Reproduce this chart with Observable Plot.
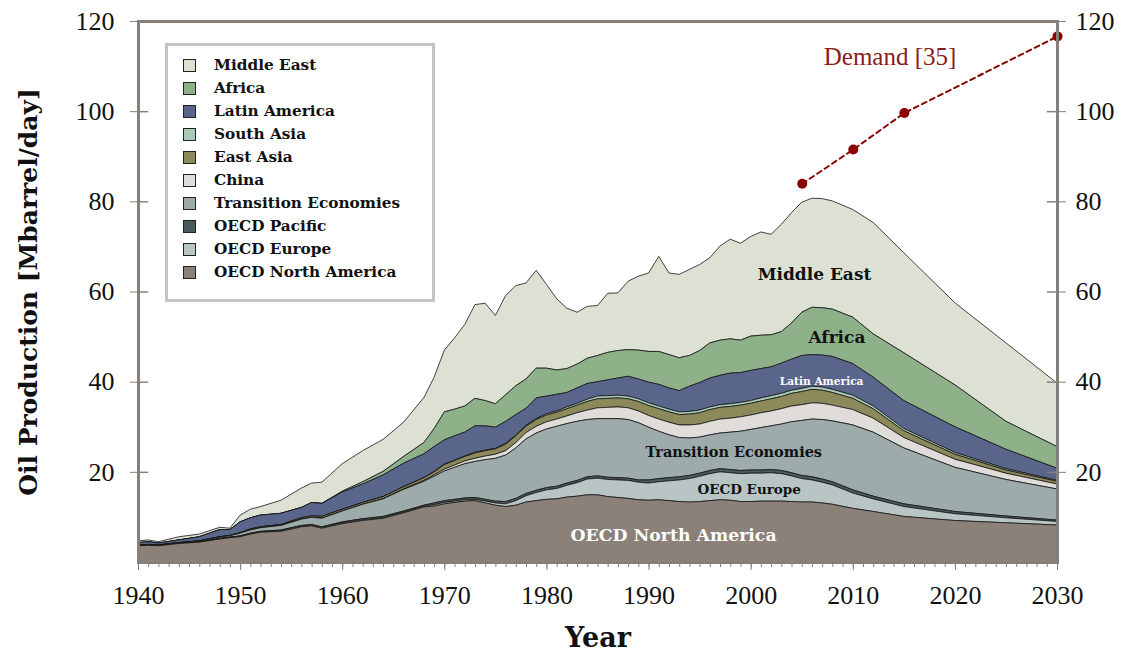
<!DOCTYPE html>
<html><head><meta charset="utf-8">
<script src="https://cdn.jsdelivr.net/npm/d3@7"></script>
<script src="https://cdn.jsdelivr.net/npm/@observablehq/plot@0.6"></script>
<style>
body{margin:0;background:#fff;}
#wrap{position:relative;width:1127px;height:656px;}
#legend{position:absolute;left:165px;top:43px;width:264px;height:253px;border:3px solid #c4c4c4;background:#fff;}
.item{position:absolute;left:15px;height:23px;display:flex;align-items:center;font-family:"DejaVu Serif";font-weight:bold;font-size:15.3px;color:#111;white-space:nowrap;}
.sw{width:11px;height:11px;border:1.5px solid #222;margin-right:18px;flex:none;}
</style></head>
<body><div id="wrap"><div id="legend"></div></div>
<script>
// ---- data (Mbarrel/day) ----
const years = [1940,1941,1942,1944,1946,1948,1949,1950,1951,1952,1954,1956,1957,1958,
  1960,1962,1964,1966,1968,
  1969,1970,1971,1972,1973,1974,1975,1976,1977,1978,1979,
  1980,1981,1982,1983,1984,1985,1986,1987,1988,1989,
  1990,1991,1992,1993,1994,1995,1996,1997,1998,1999,
  2000,2001,2002,2003,2004,2005,2006,2007,2008,
  2010,2012,2015,2020,2025,2030];

const oecdNorthAmerica = [3.6,3.7,3.6,4.1,4.4,5.1,5.4,5.6,6.2,6.6,6.8,7.8,8.0,7.5,
  8.5,9.2,9.7,10.9,12.2,
  12.4,12.9,13.2,13.5,13.6,13.1,12.6,12.3,12.6,13.3,13.6,
  13.9,14.0,14.4,14.6,14.9,14.9,14.5,14.3,14.1,13.8,
  13.7,13.8,13.6,13.4,13.3,13.4,13.6,13.8,13.7,13.4,
  13.4,13.5,13.5,13.5,13.4,13.3,13.3,13.1,12.8,
  11.9,11.2,10.1,9.2,8.7,8.2];
const oecdEurope = [0,0,0,0,0,0.1,0.1,0.1,0.1,0.1,0.2,0.2,0.2,0.2,
  0.2,0.2,0.2,0.2,0.2,
  0.3,0.3,0.3,0.3,0.3,0.4,0.5,0.6,1.0,1.4,1.8,
  2.1,2.3,2.6,3.0,3.5,3.7,3.8,3.9,4.0,3.9,
  3.8,4.0,4.4,4.8,5.2,5.6,6.0,6.2,6.1,6.2,
  6.3,6.2,6.3,6.1,5.7,5.2,4.9,4.6,4.3,
  3.4,2.8,2.2,1.5,1.1,0.8];
const oecdPacific = [0,0,0,0,0,0,0,0.1,0.1,0.1,0.1,0.1,0.1,0.1,
  0.2,0.2,0.2,0.2,0.2,
  0.4,0.4,0.4,0.4,0.4,0.4,0.4,0.5,0.5,0.5,0.5,
  0.5,0.5,0.5,0.5,0.5,0.5,0.5,0.5,0.5,0.5,
  0.7,0.7,0.7,0.7,0.7,0.7,0.7,0.7,0.7,0.7,
  0.7,0.7,0.7,0.7,0.7,0.7,0.7,0.7,0.7,
  0.7,0.6,0.6,0.5,0.4,0.3];
const transitionEconomies = [0.1,0.1,0.1,0.1,0.2,0.3,0.3,0.6,0.7,0.8,1.0,1.4,1.6,1.9,
  2.4,3.2,3.9,4.8,5.3,
  5.9,6.6,7.1,7.6,8.0,8.8,9.5,10.3,11.2,12.1,12.7,
  13.0,13.3,13.2,13.1,12.7,12.7,13.0,13.1,13.0,12.7,
  11.7,10.5,9.5,8.7,8.3,8.0,7.9,7.9,8.3,8.7,
  9.0,9.4,9.7,10.3,11.3,12.2,12.8,13.2,13.5,
  14.4,14.2,12.4,9.8,8.1,6.9];
const china = [0,0,0,0,0,0,0,0,0,0,0,0,0,0,
  0,0,0,0.1,0.2,
  0.3,0.4,0.5,0.6,0.7,0.8,0.9,1.0,1.2,1.4,1.5,
  1.6,1.6,1.7,1.9,2.1,2.4,2.5,2.6,2.6,2.6,
  2.6,2.7,2.8,2.8,2.9,2.9,3.0,3.1,3.1,3.2,
  3.2,3.3,3.3,3.4,3.5,3.5,3.6,3.6,3.5,
  3.4,3.1,2.3,1.8,1.4,1.1];
const eastAsia = [0.1,0.1,0.1,0.1,0.1,0.1,0.1,0.1,0.2,0.2,0.2,0.3,0.3,0.4,
  0.4,0.4,0.5,0.5,0.6,
  0.7,1.0,1.0,1.0,1.2,1.2,1.2,1.4,1.5,1.4,1.5,
  1.5,1.5,1.6,1.7,1.9,2.0,2.0,2.0,2.0,2.1,
  2.2,2.3,2.3,2.3,2.4,2.5,2.6,2.6,2.6,2.6,
  2.6,2.6,2.7,2.7,2.8,2.9,3.0,2.9,2.8,
  2.5,2.1,1.5,1.1,0.7,0.6];
const southAsia = [0,0,0,0,0,0,0,0,0,0,0,0,0,0,
  0,0,0,0,0,
  0.1,0.1,0.1,0.1,0.1,0.1,0.1,0.2,0.2,0.2,0.2,
  0.3,0.3,0.4,0.4,0.5,0.6,0.6,0.6,0.6,0.6,
  0.6,0.6,0.6,0.6,0.6,0.6,0.6,0.6,0.6,0.6,
  0.6,0.7,0.7,0.7,0.7,0.7,0.7,0.7,0.7,
  0.7,0.6,0.5,0.4,0.3,0.2];
const latinAmerica = [0.5,0.6,0.4,0.6,0.9,1.6,1.3,2.4,2.5,2.6,2.5,2.3,3.0,2.9,
  3.8,4.1,4.8,5.2,5.3,
  5.5,5.4,5.4,5.3,5.9,5.4,4.7,4.9,4.5,3.8,4.6,
  3.9,3.7,3.2,3.4,3.5,3.2,3.5,3.8,4.4,4.4,
  4.6,4.8,4.7,4.7,5.6,6.1,6.4,6.5,6.8,6.6,
  6.7,6.5,6.4,6.7,6.9,7.3,7.0,7.1,7.3,
  7.0,6.4,6.2,5.7,4.3,2.7];
const africa = [0,0,0,0,0,0,0,0,0,0,0,0,0,0,
  0.2,0.5,0.8,1.5,2.5,
  4.0,6.2,5.9,5.8,6.1,5.6,5.2,5.9,6.4,6.5,6.6,
  6.2,5.4,5.3,5.3,5.6,5.8,6.1,6.1,5.9,6.4,
  6.8,7.3,7.4,7.3,6.8,7.1,7.8,7.8,7.6,7.2,
  7.6,7.4,7.1,7.0,8.0,9.6,10.5,10.5,10.5,
  10.3,9.6,10.6,9.3,6.2,4.8];
const middleEast = [0.4,0.4,0.3,0.7,0.6,0.5,0.3,1.5,1.9,1.9,2.9,4.3,4.3,4.7,
  6.1,6.9,7.1,7.6,10.0,
  11.4,13.7,15.8,18.1,20.8,21.6,19.6,22.0,22.2,21.3,21.7,
  18.6,15.8,13.4,11.5,11.5,11.1,13.1,12.8,15.2,16.4,
  17.4,21.1,18.1,18.5,19.1,19.1,18.9,20.9,22.1,21.5,
  22.1,22.9,22.3,23.8,24.5,24.4,24.2,24.2,24.0,
  23.9,24.7,22.2,18.2,17.4,14.1];

const demandYears = [2005, 2010, 2015, 2030];
const demand = [84.0, 91.6, 99.7, 116.7];

const xTicks = [1940,1950,1960,1970,1980,1990,2000,2010,2020,2030];
const yTicks = [20,40,60,80,100,120];

// legend order (top to bottom) and stacking order (bottom to top)
const legendNames = ["Middle East","Africa","Latin America","South Asia","East Asia","China",
  "Transition Economies","OECD Pacific","OECD Europe","OECD North America"];
const colors = ["#dde1d4","#8fb18a","#5a658c","#a8cbb8","#8c8a5a","#e0dcda",
  "#9dabab","#4a5a5a","#b9c4c5","#8c8178"];
const seriesValues = [middleEast, africa, latinAmerica, southAsia, eastAsia, china,
  transitionEconomies, oecdPacific, oecdEurope, oecdNorthAmerica];

// ---- build long table ----
const rows = [];
legendNames.forEach((name, s) => {
  years.forEach((yr, i) => rows.push({year: yr, series: name, value: seriesValues[s][i]}));
});
const stackOrder = legendNames.slice().reverse();
const demandRows = demandYears.map((yr, i) => ({year: yr, value: demand[i]}));

const grey = "#87807a";
const serifBold = "DejaVu Serif";

const chart = Plot.plot({
  width: 1127, height: 656,
  marginLeft: 138, marginRight: 70, marginTop: 21, marginBottom: 94,
  x: {domain: [1940, 2030]},
  y: {domain: [0, 120]},
  color: {domain: legendNames, range: colors},
  style: {fontFamily: "Liberation Serif", background: "white", color: "#111", overflow: "visible"},
  marks: [
    Plot.areaY(rows, {x: "year", y: "value", z: "series", fill: "series", order: stackOrder,
      stroke: "#151515", strokeWidth: 0.8, strokeLinejoin: "round"}),
    // in-area labels
    Plot.text(["Middle East"], {x: 2006.2, y: 63.8, text: d => d, fontFamily: serifBold, fontWeight: "bold", fontSize: 17, fill: "#111"}),
    Plot.text(["Africa"], {x: 2008.4, y: 50.0, text: d => d, fontFamily: serifBold, fontWeight: "bold", fontSize: 17, fill: "#111"}),
    Plot.text(["Latin America"], {x: 2006.9, y: 40.2, text: d => d, fontFamily: serifBold, fontWeight: "bold", fontSize: 10.6, fill: "#fff"}),
    Plot.text(["Transition Economies"], {x: 1998.3, y: 24.4, text: d => d, fontFamily: serifBold, fontWeight: "bold", fontSize: 14.5, fill: "#111"}),
    Plot.text(["OECD Europe"], {x: 1999.8, y: 16.2, text: d => d, fontFamily: serifBold, fontWeight: "bold", fontSize: 13.5, fill: "#111"}),
    Plot.text(["OECD North America"], {x: 1992.4, y: 6.0, text: d => d, fontFamily: serifBold, fontWeight: "bold", fontSize: 17.3, fill: "#fff"}),
    // demand
    Plot.line(demandRows, {x: "year", y: "value", stroke: "#8b0000", strokeWidth: 2, strokeDasharray: "5,4"}),
    Plot.dot(demandRows, {x: "year", y: "value", r: 5, fill: "#8b0000"}),
    Plot.text(["Demand [35]"], {x: 2013.6, y: 112.2, text: d => d, fontSize: 25, fill: "#8b1a1a"}),
    // axes
    Plot.axisX({ticks: d3.range(1940, 2031, 1), tickSize: 5, tickFormat: () => "", stroke: grey, label: null}),
    Plot.axisX({ticks: xTicks, tickSize: 8, tickPadding: 15, tickFormat: d => String(d), fontSize: 26, stroke: grey, fill: "#111", label: null}),
    Plot.axisY({anchor: "left", ticks: yTicks, tickSize: 8, tickPadding: 16, fontSize: 26, stroke: grey, fill: "#111", label: null}),
    Plot.axisY({anchor: "right", ticks: yTicks, tickSize: 8, tickPadding: 10, fontSize: 26, stroke: grey, fill: "#111", label: null}),
    Plot.ruleY(yTicks, {y: d => d, x1: 1940, x2: 1941, stroke: grey, strokeWidth: 1.5}),
    Plot.ruleY(yTicks, {y: d => d, x1: 2029, x2: 2030, stroke: grey, strokeWidth: 1.5}),
    Plot.frame({stroke: grey, strokeWidth: 3}),
    // axis titles
    Plot.text(["Year"], {frameAnchor: "bottom", dy: 84, text: d => d, textAnchor: "middle", fontFamily: serifBold, fontWeight: "bold", fontSize: 27, fill: "#111"}),
    Plot.text(["Oil Production [Mbarrel/day]"], {frameAnchor: "left", dx: -110, rotate: -90, textAnchor: "middle", text: d => d, fontFamily: serifBold, fontWeight: "bold", fontSize: 25, fill: "#111"})
  ]
});
document.getElementById("wrap").prepend(chart);

// legend
const legend = document.getElementById("legend");
legendNames.forEach((name, i) => {
  const item = document.createElement("div");
  item.className = "item";
  item.style.top = (7.5 + i * 23) + "px";
  const sw = document.createElement("span");
  sw.className = "sw";
  sw.style.background = colors[i];
  const t = document.createElement("span");
  t.textContent = name;
  item.appendChild(sw); item.appendChild(t);
  legend.appendChild(item);
});
</script>
</body></html>
